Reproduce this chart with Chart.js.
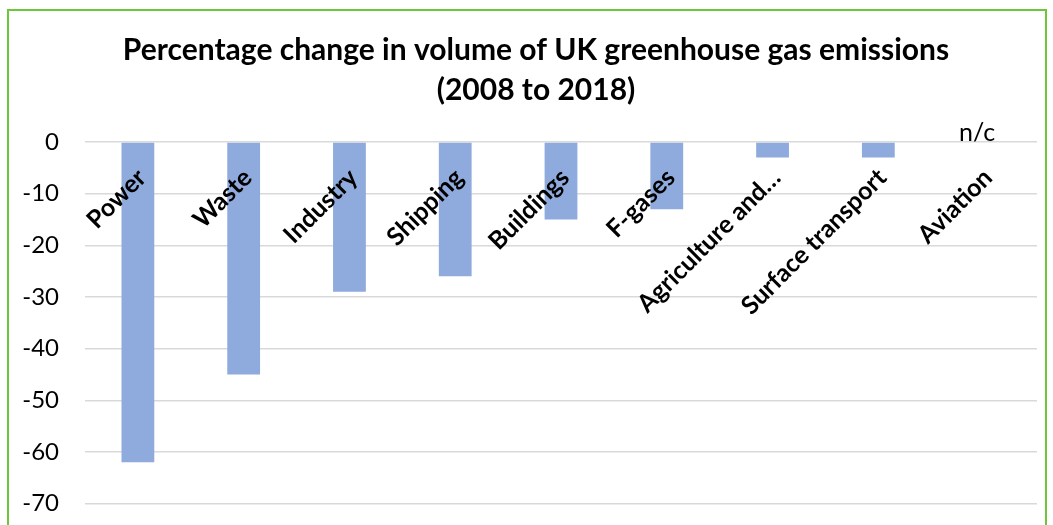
<!DOCTYPE html>
<html>
<head>
<meta charset="utf-8">
<script src="https://cdn.jsdelivr.net/npm/chart.js@4"></script>
<style>
  body { margin: 0; background: #fff; }
  #wrap { position: relative; width: 1053px; height: 525px; overflow: hidden; }
  #frame {
    position: absolute; left: 7px; top: 9px; width: 1040px; height: 600px;
    border: 2px solid #6cc83a; box-sizing: border-box; pointer-events: none;
  }
</style>
</head>
<body>
<div id="wrap">
  <canvas id="grafico" width="1053" height="544"></canvas>
  <div id="frame"></div>
</div>
<script>
// Datos
const categorias = ['Power', 'Waste', 'Industry', 'Shipping', 'Buildings', 'F-gases', 'Agriculture and…', 'Surface transport', 'Aviation'];
const cambio = [-62, -45, -29, -26, -15, -13, -3, -3, 0];
const notas = ['', '', '', '', '', '', '', '', 'n/c'];
const ticksY = [0, -10, -20, -30, -40, -50, -60, -70];

// Etiqueta "n/c" encima de la barra vacía
const notasPlugin = {
  id: 'notas',
  afterDraw(chart) {
    const ctx = chart.ctx;
    const x = chart.scales.x;
    const y = chart.scales.y;
    ctx.save();
    ctx.font = '25px Lato';
    ctx.fillStyle = '#000';
    ctx.textAlign = 'center';
    ctx.textBaseline = 'alphabetic';
    notas.forEach((n, i) => {
      if (!n) return;
      ctx.fillText(n, x.getPixelForValue(i) - 7, y.getPixelForValue(cambio[i]) - 1);
    });
    ctx.restore();
  }
};

const ctx = document.getElementById('grafico').getContext('2d');
const grafico = new Chart(ctx, {
  type: 'bar',
  data: {
    labels: categorias,
    datasets: [{
      data: cambio,
      backgroundColor: '#8faadc',
      borderWidth: 0,
      categoryPercentage: 1,
      barPercentage: 0.31
    }]
  },
  options: {
    responsive: false,
    animation: false,
    layout: { padding: { left: 19, right: 0, top: 0, bottom: 5 } },
    plugins: {
      legend: { display: false },
      tooltip: { enabled: false },
      title: {
        display: true,
        text: ['Percentage change in volume of UK greenhouse gas emissions', '(2008 to 2018)'],
        color: '#000',
        font: { family: 'Lato', size: 30, weight: 'bold', lineHeight: 1.333 },
        padding: { top: 30, bottom: 32 }
      }
    },
    scales: {
      x: {
        position: { y: 0 },
        grid: { display: false },
        border: { display: false },
        ticks: {
          z: 1,
          autoSkip: false,
          minRotation: 45,
          maxRotation: 45,
          padding: 13,
          labelOffset: 4,
          color: '#000',
          font: { family: 'Lato', size: 25, weight: 'bold' }
        }
      },
      y: {
        min: -70,
        max: 0,
        afterFit(scale) { scale.width = 66; },
        afterBuildTicks(scale) { scale.ticks = ticksY.map(v => ({ value: v })); },
        grid: { color: '#d9d9d9', lineWidth: 1.5, drawTicks: false },
        border: { display: false },
        ticks: {
          padding: 26,
          color: '#000',
          font: { family: 'Lato', size: 24 }
        }
      },
      margen: {
        type: 'linear',
        position: 'right',
        afterFit(scale) { scale.width = 16; },
        grid: { display: false },
        border: { display: false },
        ticks: { display: false }
      }
    }
  },
  plugins: [notasPlugin]
});
</script>
</body>
</html>
